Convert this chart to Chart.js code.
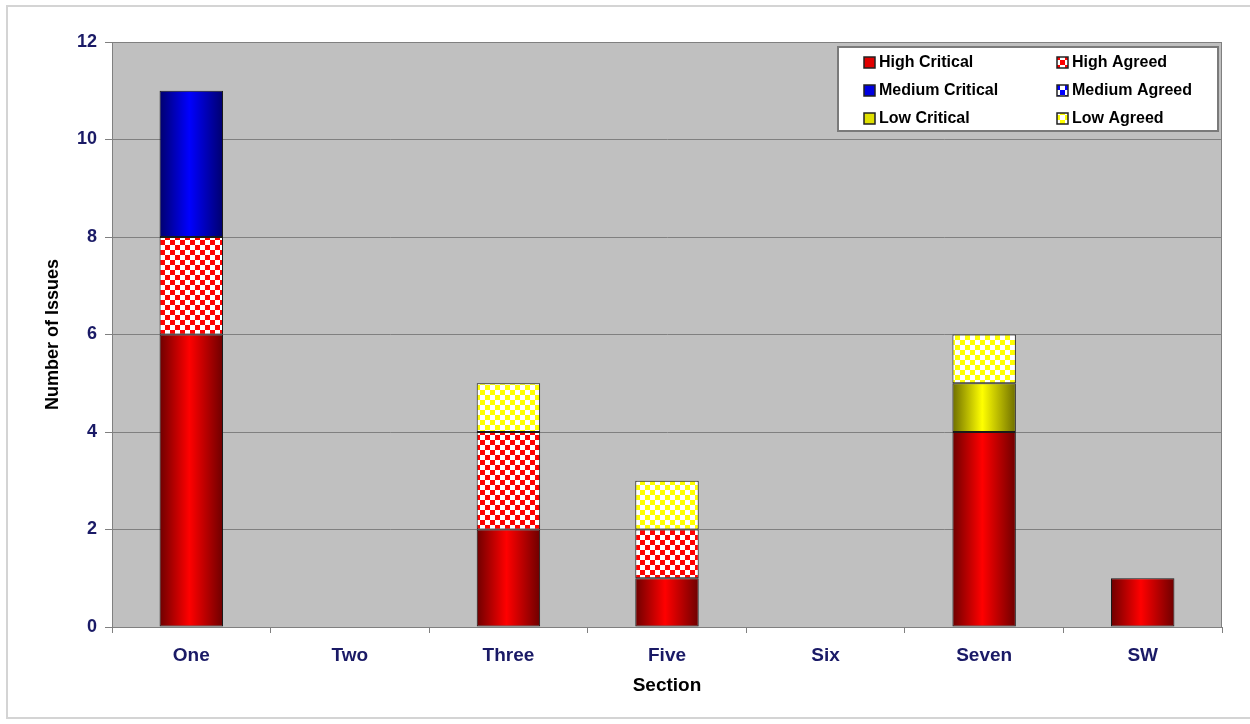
<!DOCTYPE html>
<html>
<head>
<meta charset="utf-8">
<script src="https://cdn.jsdelivr.net/npm/chart.js@4.4.1/dist/chart.umd.min.js"></script>
<style>
  html, body { margin: 0; padding: 0; background: #ffffff; }
  #wrap { width: 1250px; height: 724px; position: relative; }
</style>
</head>
<body>
<div id="wrap"><canvas id="c" width="1250" height="724"></canvas></div>
<script>
// ---- data ----
const categories = ["One", "Two", "Three", "Five", "Six", "Seven", "SW"];
const highCritical   = [6, 0, 2, 1, 0, 4, 1];
const highAgreed     = [2, 0, 2, 1, 0, 0, 0];
const mediumCritical = [3, 0, 0, 0, 0, 0, 0];
const mediumAgreed   = [0, 0, 0, 0, 0, 0, 0];
const lowCritical    = [0, 0, 0, 0, 0, 1, 0];
const lowAgreed      = [0, 0, 1, 1, 0, 1, 0];
const seriesLabels = ["High Critical", "High Agreed", "Medium Critical", "Medium Agreed", "Low Critical", "Low Agreed"];
const yTicks = [0, 2, 4, 6, 8, 10, 12];

const NAVY = '#1a1a66';
const FONT = '"Liberation Sans", Arial, sans-serif';

function checker(color) {
  const c = document.createElement('canvas');
  c.width = 10; c.height = 10;
  const g = c.getContext('2d');
  g.fillStyle = '#ffffff'; g.fillRect(0, 0, 10, 10);
  g.fillStyle = color;
  g.fillRect(0, 0, 5, 5); g.fillRect(5, 5, 5, 5);
  return g.createPattern(c, 'repeat');
}

function gradFill(dark, light) {
  return function (ctx) {
    const chart = ctx.chart;
    const xs = chart.scales && chart.scales.x;
    if (ctx.type !== 'data' || !xs || !xs.width) return light;
    const cx = xs.getPixelForValue(ctx.dataIndex);
    const w = (xs.width / categories.length) * 0.4;
    const g = chart.ctx.createLinearGradient(cx - w / 2, 0, cx + w / 2, 0);
    g.addColorStop(0, dark);
    g.addColorStop(0.47, light);
    g.addColorStop(1, dark);
    return g;
  };
}

const fills = [
  gradFill('#6e0000', '#ff0000'),
  checker('#ff0000'),
  gradFill('#00006e', '#0000ff'),
  checker('#0000ff'),
  gradFill('#6e6e00', '#ffff00'),
  checker('#ffff00')
];
const swatchColors = ['#e00000', '#ff0000', '#0000e0', '#0000ff', '#e0e000', '#ffff00'];
const seriesValues = [highCritical, highAgreed, mediumCritical, mediumAgreed, lowCritical, lowAgreed];

const datasets = seriesLabels.map((lab, i) => ({
  label: lab,
  data: seriesValues[i],
  backgroundColor: fills[i],
  borderColor: '#1a1a1a',
  borderWidth: 1,
  borderSkipped: false,
  barPercentage: 0.8,
  categoryPercentage: 0.5
}));

const framePlugin = {
  id: 'frame',
  beforeDraw(chart) {
    const ctx = chart.ctx;
    const a = chart.chartArea;
    ctx.save();
    ctx.strokeStyle = '#d4d4d4';
    ctx.lineWidth = 2;
    ctx.strokeRect(7, 6, 1250, 712);
    ctx.fillStyle = '#c0c0c0';
    ctx.fillRect(a.left, a.top, a.right - a.left, a.bottom - a.top);
    ctx.restore();
  },
  afterDatasetsDraw(chart) {
    const ctx = chart.ctx;
    const a = chart.chartArea;
    ctx.save();
    ctx.strokeStyle = '#808080';
    ctx.lineWidth = 1;
    ctx.strokeRect(a.left + 0.5, a.top + 0.5, a.right - a.left - 1, a.bottom - a.top);
    ctx.restore();
  }
};

const legendPlugin = {
  id: 'boxLegend',
  afterDraw(chart) {
    const ctx = chart.ctx;
    const a = chart.chartArea;
    const boxL = a.right - 384, boxT = a.top + 5, boxW = 380, boxH = 84;
    ctx.save();
    ctx.fillStyle = '#ffffff';
    ctx.fillRect(boxL, boxT, boxW, boxH);
    ctx.strokeStyle = '#7a7a7a';
    ctx.lineWidth = 2;
    ctx.strokeRect(boxL, boxT, boxW, boxH);
    ctx.font = 'bold 16px ' + FONT;
    ctx.textBaseline = 'middle';
    ctx.textAlign = 'left';
    seriesLabels.forEach((lab, i) => {
      const col = i % 2, row = Math.floor(i / 2);
      const sx = boxL + 26 + col * 193;
      const sy = boxT + 15 + row * 28;
      ctx.fillStyle = (i % 2 === 0) ? swatchColors[i] : fills[i];
      ctx.fillRect(sx, sy - 5, 11, 11);
      ctx.strokeStyle = '#222222';
      ctx.lineWidth = 1.5;
      ctx.strokeRect(sx, sy - 5, 11, 11);
      ctx.fillStyle = '#000000';
      ctx.fillText(lab, sx + 15, sy + 1);
    });
    ctx.restore();
  }
};

new Chart(document.getElementById('c'), {
  type: 'bar',
  data: { labels: categories, datasets: datasets },
  plugins: [framePlugin, legendPlugin],
  options: {
    responsive: false,
    animation: false,
    layout: { padding: { left: 0, top: 42, right: 28, bottom: 0 } },
    plugins: { legend: { display: false }, tooltip: { enabled: false } },
    scales: {
      x: {
        stacked: true,
        offset: true,
        afterFit(s) { s.height = 97; },
        grid: { display: true, drawOnChartArea: false, drawTicks: true, tickLength: 6, color: '#808080', offset: true },
        border: { display: true, color: '#808080' },
        ticks: { color: NAVY, font: { family: FONT, size: 19, weight: 'bold' }, padding: 11 },
        title: { display: true, text: 'Section', color: '#000000', font: { family: FONT, size: 19, weight: 'bold' }, padding: { top: 0, bottom: 27 } }
      },
      y: {
        stacked: true,
        min: 0,
        max: 12,
        afterFit(s) { s.width = 112; },
        afterBuildTicks(s) { s.ticks = yTicks.map(v => ({ value: v })); },
        grid: { color: '#808080', lineWidth: 1, tickLength: 7, drawTicks: true },
        border: { display: true, color: '#808080' },
        ticks: { color: NAVY, font: { family: FONT, size: 18, weight: 'bold' }, padding: 8 },
        title: { display: true, text: 'Number of Issues', color: '#000000', font: { family: FONT, size: 18, weight: 'bold' }, padding: { top: 42, bottom: 0 } }
      }
    }
  }
});
</script>
</body>
</html>
